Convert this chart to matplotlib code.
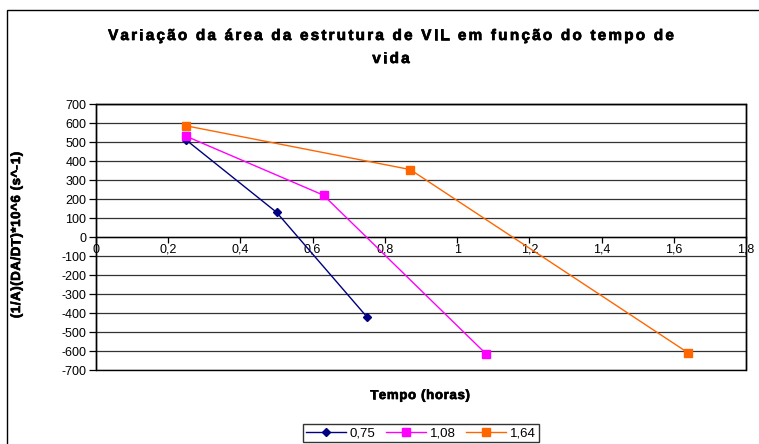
import matplotlib
matplotlib.use("Agg")
import matplotlib.pyplot as plt
import matplotlib.patheffects as pe
from matplotlib.patches import Rectangle
from matplotlib.ticker import FuncFormatter, MultipleLocator

plt.rcParams['font.family'] = ['Liberation Sans', 'DejaVu Sans']

series_labels = ["0,75", "1,08", "1,64"]
x_075 = [0.25, 0.50, 0.75]
y_075 = [510, 130, -420]
x_108 = [0.25, 0.63, 1.08]
y_108 = [530, 220, -615]
x_164 = [0.25, 0.87, 1.64]
y_164 = [585, 355, -610]
colors = ["#000080", "#FF00FF", "#FF6600"]
markers = ["D", "s", "s"]

title_line1 = "Variação da área da estrutura de VIL em função do tempo de"
title_line2 = "vida"
xlabel = "Tempo (horas)"
ylabel = "(1/A)(DA/DT)*10^6 (s^-1)"

W, H = 759, 444
fig = plt.figure(figsize=(W / 100, H / 100), dpi=100)
renderer = fig.canvas.get_renderer()
heavy = [pe.withStroke(linewidth=0.5, foreground='black')]


def char_width(c, size, weight):
    t1 = fig.text(0, 0, "|" + c + "|", fontsize=size, fontweight=weight)
    t2 = fig.text(0, 0, "||", fontsize=size, fontweight=weight)
    w = t1.get_window_extent(renderer).width - t2.get_window_extent(renderer).width
    t1.remove()
    t2.remove()
    return w


def tracked_text(s, cx, cy_base, size, weight, tracking, rotation=0):
    """Draw text centred at cx (pixels from left) with baseline at cy_base (pixels from top)."""
    widths = [char_width(c, size, weight) for c in s]
    total = sum(widths) + tracking * (len(s) - 1)
    if rotation == 0:
        pos = cx - total / 2
        for c, w in zip(s, widths):
            fig.text(pos / W, 1 - cy_base / H, c, fontsize=size, fontweight=weight,
                     ha='left', va='baseline', path_effects=heavy)
            pos += w + tracking
    else:
        # rotated 90: reads bottom to top; cx is baseline x, cy_base is centre y
        pos = cy_base + total / 2
        for c, w in zip(s, widths):
            fig.text(cx / W, 1 - pos / H, c, fontsize=size, fontweight=weight,
                     ha='left', va='baseline', rotation=90, rotation_mode='anchor',
                     path_effects=heavy)
            pos -= w + tracking


fig.patches.append(Rectangle((7 / W, -0.1), 1.2, (H - 10) / H + 0.1, transform=fig.transFigure,
                             fill=False, edgecolor='black', linewidth=1.0, zorder=0))

ax = fig.add_axes([96 / W, (H - 370) / H, (746 - 96) / W, (370 - 104) / H])
for xs, ys, c, m, lab in zip([x_075, x_108, x_164], [y_075, y_108, y_164], colors, markers, series_labels):
    ax.plot(xs, ys, color=c, marker=m, markersize=4.5 if m == "D" else 5.5, linewidth=1.0,
            label=lab, zorder=3, clip_on=False)

ax.set_xlim(0, 1.8)
ax.set_ylim(-700, 700)
ax.xaxis.set_major_locator(MultipleLocator(0.2))
ax.yaxis.set_major_locator(MultipleLocator(100))
ax.xaxis.set_major_formatter(FuncFormatter(lambda v, p: ("%g" % round(v, 2)).replace('.', ',')))
ax.yaxis.set_major_formatter(FuncFormatter(lambda v, p: "%d" % round(v)))

ax.grid(axis='y', color='#333333', linewidth=0.9)
ax.set_axisbelow(True)
ax.spines['bottom'].set_position(('data', 0))
for s in ax.spines.values():
    s.set_linewidth(1.0)
ax.add_patch(Rectangle((0, 0), 1, 1, transform=ax.transAxes, fill=False, edgecolor='black',
                       linewidth=1.0, zorder=4, clip_on=False))

ax.tick_params(axis='x', direction='out', length=4, width=0.9, labelsize=9, pad=1)
ax.tick_params(axis='y', direction='out', length=5, width=0.9, labelsize=9, pad=2)

tracked_text(title_line1, 391, 40, 11, 'bold', 2.2)
tracked_text(title_line2, 391, 63, 11, 'bold', 2.2)
tracked_text(xlabel, 420, 399, 9.5, 'bold', 0.7)
tracked_text(ylabel, 20, 235, 9.5, 'bold', 0.6, rotation=90)

leg = fig.legend(loc='center', bbox_to_anchor=(421 / W, 1 - 433 / H), ncol=3, fontsize=9.5,
                 frameon=True, fancybox=False, edgecolor='black', handlelength=3.0,
                 handletextpad=0.3, columnspacing=0.8, borderpad=0.25, borderaxespad=0)
leg.get_frame().set_linewidth(1.0)

fig.savefig("out.png", dpi=100)
